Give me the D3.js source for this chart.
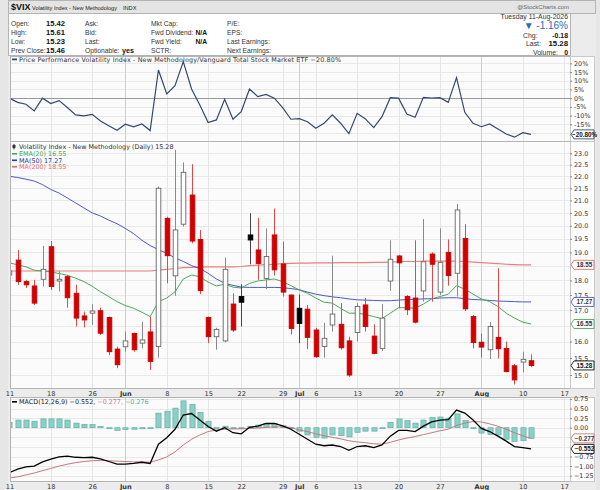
<!DOCTYPE html>
<html lang="en">
<head>
<meta charset="utf-8">
<title>$VIX Volatility Index - New Methodology</title>
<script src="https://d3js.org/d3.v7.min.js"></script>
<style>
    body, html { margin: 0; padding: 0; background: #e6e6e6; overflow: hidden; }
    svg { display: block; font-family: "DejaVu Sans", Verdana, sans-serif; }
    .hd { font-family: "Liberation Sans", Arial, sans-serif; }
</style>
</head>
<body>
<svg width="600" height="490"></svg>
<script>
// ---- data ----
const days = ["05-11","05-12","05-13","05-14","05-15","05-18","05-19","05-20","05-21","05-22",
              "05-26","05-27","05-28","05-29","06-01","06-02","06-03","06-04","06-05","06-08",
              "06-09","06-10","06-11","06-12","06-15","06-16","06-17","06-18","06-22","06-23",
              "06-24","06-25","06-26","06-29","06-30","07-01","07-02","07-06","07-07","07-08",
              "07-09","07-10","07-13","07-14","07-15","07-16","07-17","07-20","07-21","07-22",
              "07-23","07-24","07-27","07-28","07-29","07-30","07-31","08-03","08-04","08-05",
              "08-06","08-07","08-10","08-11"];
const futureDays = ["08-12","08-13","08-14","08-17"];

const open = [18.19,18.72,17.96,17.81,18.04,19.21,17.98,18.13,17.56,16.81,
              16.90,16.98,16.76,15.77,15.84,16.25,15.95,16.30,15.85,20.29,
              18.16,20.06,21.22,19.48,16.76,16.15,16.02,17.20,17.45,19.65,
              19.09,18.07,19.65,18.58,17.50,17.06,17.03,16.36,15.85,16.52,
              16.54,16.02,16.28,17.17,16.17,15.79,17.98,18.87,17.45,17.40,
              17.64,18.94,17.60,19.00,18.25,19.52,16.79,15.98,15.75,16.13,
              15.79,15.27,15.38,15.42];
const high = [18.40,19.09,18.02,18.02,19.24,19.42,18.32,18.19,17.85,16.95,
              17.20,17.08,16.79,15.84,16.31,16.28,16.62,16.79,21.57,20.35,
              23.15,22.60,22.52,19.84,16.79,16.43,18.81,17.56,17.87,20.49,
              20.31,19.90,20.68,19.40,17.52,17.52,17.17,16.43,16.59,18.88,
              17.23,16.15,17.23,17.40,16.54,17.20,19.45,18.91,17.50,19.45,
              20.26,19.00,19.90,19.48,20.86,20.06,16.84,16.25,16.61,18.43,
              16.00,15.32,15.69,15.61];
const low = [18.12,17.85,17.74,17.17,17.79,17.67,17.62,17.08,16.47,16.44,
             16.52,16.21,15.59,15.20,15.69,15.69,15.79,15.15,15.51,17.90,
             17.48,19.97,19.34,17.53,15.95,15.75,15.98,16.30,16.47,18.57,
             18.02,17.70,18.17,17.45,16.22,15.95,15.77,15.51,15.51,16.31,
             15.75,14.95,16.00,16.31,15.61,15.71,17.64,17.06,16.84,16.57,
             17.28,17.28,17.50,17.82,17.45,16.97,15.79,15.51,15.47,15.49,
             15.08,14.73,15.08,15.23];
const close = [18.33,17.96,17.85,17.23,18.39,17.79,18.04,17.41,16.74,16.68,
               16.97,16.26,15.69,15.30,16.02,15.75,16.05,15.40,21.50,18.88,
               19.84,22.17,19.42,17.65,16.15,16.38,18.39,16.36,17.26,19.46,
               18.60,18.85,18.37,17.60,16.41,16.57,16.13,15.54,16.10,16.87,
               15.81,15.00,17.12,16.47,15.64,16.74,18.75,18.62,17.01,16.61,
               18.66,18.57,18.64,18.17,20.62,17.04,15.97,15.83,16.47,15.78,
               15.10,14.86,15.46,15.28];

const ema20 = [18.62,18.55,18.48,18.36,18.33,18.30,18.24,18.18,18.08,17.96,
               17.80,17.61,17.45,17.28,17.15,17.06,16.93,16.79,17.28,17.40,
               17.61,18.05,18.19,18.13,17.94,17.81,17.87,17.77,17.74,17.90,
               17.98,18.02,18.05,17.96,17.82,17.67,17.56,17.40,17.26,17.23,
               17.06,16.90,16.90,16.86,16.79,16.72,16.90,17.08,17.08,17.06,
               17.20,17.37,17.45,17.53,17.82,17.70,17.53,17.37,17.28,17.12,
               16.90,16.74,16.61,16.55];
const ma50 = [22.00,21.95,21.88,21.80,21.65,21.45,21.30,21.10,20.90,20.70,
              20.50,20.38,20.22,20.08,19.90,19.70,19.45,19.25,19.10,18.97,
              18.80,18.67,18.52,18.42,18.25,18.05,17.90,17.83,17.77,17.76,
              17.76,17.76,17.76,17.75,17.72,17.68,17.60,17.53,17.48,17.44,
              17.41,17.37,17.34,17.33,17.32,17.31,17.31,17.33,17.35,17.36,
              17.37,17.38,17.40,17.41,17.41,17.38,17.35,17.34,17.32,17.30,
              17.29,17.28,17.27,17.27];
const ma200 = [18.33,18.33,18.33,18.33,18.33,18.33,18.33,18.33,18.33,18.33,
               18.33,18.33,18.33,18.33,18.33,18.33,18.33,18.33,18.36,18.39,
               18.42,18.45,18.46,18.47,18.48,18.48,18.48,18.48,18.49,18.52,
               18.54,18.56,18.57,18.59,18.60,18.61,18.61,18.62,18.62,18.62,
               18.63,18.63,18.63,18.63,18.64,18.64,18.65,18.66,18.67,18.67,
               18.68,18.68,18.68,18.68,18.68,18.67,18.65,18.63,18.61,18.59,
               18.57,18.56,18.55,18.55];

// price performance vs VTI, %
const perf = [0,-2.4,-3.5,-7.3,0,-3.1,-1.4,-5.4,-9.6,-10.2,
              -9.3,-13.1,-15.8,-18.4,-15.0,-16.5,-14.8,-18.6,16.2,2.4,
              7.2,21.0,5.3,-3.9,-14.0,-12.5,-0.6,-12.1,-7.7,5.3,
              0.9,2.2,0,-5.4,-12.1,-11.8,-13.5,-17.3,-14.4,-9.6,
              -14.4,-20.4,-8.7,-11.9,-16.9,-10.6,0.3,0,-9.1,-11.0,
              0.5,0.1,0.3,-2.4,11.8,-8.1,-14.4,-16.4,-14.8,-17.7,
              -20.6,-22.4,-19.8,-20.8];

const macd = [-1.17,-1.08,-1.02,-1.00,-0.89,-0.82,-0.76,-0.74,-0.77,-0.78,
              -0.77,-0.81,-0.88,-0.95,-0.95,-0.93,-0.90,-0.93,-0.43,-0.26,
              -0.04,0.33,0.37,0.20,0.03,-0.09,0.00,-0.13,-0.16,0.01,
              0.04,0.11,0.11,0.05,-0.04,-0.17,-0.30,-0.43,-0.47,-0.45,
              -0.49,-0.59,-0.49,-0.47,-0.52,-0.45,-0.22,-0.07,-0.07,-0.10,
              0.04,0.15,0.20,0.21,0.46,0.38,0.20,-0.02,-0.10,-0.22,
              -0.35,-0.49,-0.52,-0.552];
const signal = [-1.31,-1.28,-1.23,-1.18,-1.12,-1.06,-1.00,-0.95,-0.91,-0.88,
                -0.86,-0.85,-0.86,-0.87,-0.88,-0.89,-0.89,-0.90,-0.84,-0.76,
                -0.63,-0.45,-0.30,-0.19,-0.10,-0.06,-0.04,-0.03,-0.03,-0.02,
                -0.01,0.01,0.02,0.02,0.01,-0.06,-0.10,-0.16,-0.21,-0.25,
                -0.29,-0.34,-0.37,-0.39,-0.42,-0.43,-0.38,-0.32,-0.27,-0.23,
                -0.18,-0.13,-0.08,-0.04,0.06,0.12,0.16,0.15,0.10,0.04,
                -0.04,-0.13,-0.21,-0.277];
const hist = [0.14,0.20,0.20,0.17,0.23,0.23,0.23,0.20,0.12,0.09,
              0.08,0.03,-0.02,-0.07,-0.05,-0.04,-0.03,-0.02,0.38,0.43,
              0.51,0.70,0.61,0.40,0.17,0.01,0.04,-0.02,-0.02,0.03,
              0.07,0.11,0.11,0.05,-0.02,-0.09,-0.19,-0.25,-0.27,-0.19,
              -0.21,-0.24,-0.12,-0.09,-0.09,-0.02,0.14,0.23,0.19,0.12,
              0.20,0.27,0.28,0.25,0.36,0.19,0.00,-0.14,-0.18,-0.19,
              -0.30,-0.36,-0.34,-0.276];

const tickDays = ["05-11","05-18","05-26","06-01","06-08","06-15","06-22","06-29",
                  "07-01","07-06","07-13","07-20","07-27","08-03","08-10","08-17"];
const tickLabels = ["11","18","26","Jun","8","15","22","29","Jul","6","13","20","27","Aug","10","17"];
const monthLabels = ["Jun","Jul","Aug"];

const priceTicks = [15,15.5,16,16.5,17,17.5,18,18.5,19,19.5,20,20.5,21,21.5,22,22.5,23];
const perfTicks = [-20,-15,-10,-5,0,5,10,15,20];
const macdTicks = [-1.25,-1,-0.75,-0.5,-0.25,0,0.25,0.5,0.75];

const infoRows = [
  ["Open:", "15.42", "Ask:", "", "Mkt Cap:", "", "P/E:"],
  ["High:", "15.61", "Bid:", "", "Fwd Dividend:", "N/A", "EPS:"],
  ["Low:", "15.23", "Last:", "", "Fwd Yield:", "N/A", "Last Earnings:"],
  ["Prev Close:", "15.46", "Optionable:", "yes", "SCTR:", "", "Next Earnings:"]
];

// ---- layout ----
const svg = d3.select("svg");
const L = 10, R = 570;
const P1 = {top: 56, bottom: 141, id: "c1"};
const P2 = {top: 141, bottom: 388, id: "c2"};
const P3 = {top: 397, bottom: 481, id: "c3"};

const slots = days.concat(futureDays);
const x = d3.scaleLinear().domain([0, slots.length - 1]).range([9.4, 9.4 + 8.28 * (slots.length - 1)]);
const xd = d => x(slots.indexOf(d));

const yPerf = d3.scaleLinear().domain([-24.6, 24.8]).range([P1.bottom, P1.top - 1]);
const yPrice = d3.scaleLog().domain([14.63, 23.55]).range([P2.bottom, P2.top]);
const yMacd = d3.scaleLinear().domain([-1.388, 0.8]).range([P3.bottom, P3.top]);

const grey = "#b4b4b4";
const f2 = d3.format(".2f"), f3 = d3.format(".3f");

// outer frame
svg.append("rect").attr("x", 8).attr("y", 0).attr("width", 588).attr("height", 490).attr("fill", "#ececec");

// ---- header ----
const hdr = svg.append("g").attr("class", "hd");
hdr.append("rect").attr("x", 8.5).attr("y", 0.5).attr("width", 587).attr("height", 13)
   .attr("fill", "#e4e4e4").attr("stroke", grey);
hdr.append("text").attr("x", 11).attr("y", 10).attr("font-size", 9).attr("font-weight", "bold").attr("fill", "#111").text("$VIX");
hdr.append("text").attr("x", 32).attr("y", 10).attr("font-size", 6).attr("fill", "#222")
   .attr("textLength", 85).attr("lengthAdjust", "spacingAndGlyphs").text("Volatility Index - New Methodology");
hdr.append("text").attr("x", 123).attr("y", 10).attr("font-size", 5.6).attr("fill", "#222").text("INDX");
hdr.append("text").attr("x", 569).attr("y", 9).attr("text-anchor", "end").attr("font-size", 6).attr("fill", "#666").text("@StockCharts.com");

hdr.append("rect").attr("x", 8.5).attr("y", 13.5).attr("width", 562).attr("height", 42)
   .attr("fill", "#fff").attr("stroke", grey);

const rowY = [26, 35, 44, 53];
infoRows.forEach((r, i) => {
  const t = hdr.append("g").attr("font-size", 6.7).attr("fill", "#333");
  t.append("text").attr("x", 11).attr("y", rowY[i]).text(r[0]);
  t.append("text").attr("x", 65).attr("y", rowY[i]).attr("text-anchor", "end")
   .attr("font-weight", "bold").attr("font-size", 7.6).attr("fill", "#111").text(r[1]);
  t.append("text").attr("x", 85).attr("y", rowY[i]).text(r[2]);
  if (r[3]) t.append("text").attr("x", 122).attr("y", rowY[i]).attr("font-weight", "bold").attr("font-size", 7.2).attr("fill", "#111").text(r[3]);
  t.append("text").attr("x", 151).attr("y", rowY[i]).text(r[4]);
  if (r[5]) t.append("text").attr("x", 207).attr("y", rowY[i]).attr("text-anchor", "end").attr("font-weight", "bold").attr("fill", "#111").text(r[5]);
  t.append("text").attr("x", 227).attr("y", rowY[i]).text(r[6]);
});

const rt = hdr.append("g").attr("font-size", 6.9).attr("fill", "#333");
rt.append("text").attr("x", 568).attr("y", 19).attr("text-anchor", "end").text("Tuesday  11-Aug-2026");
rt.append("text").attr("x", 568).attr("y", 29).attr("text-anchor", "end").attr("font-size", 10).attr("fill", "#2f6db5").text("\u25BC -1.16%");
rt.append("text").attr("x", 523).attr("y", 37.5).text("Chg:");
rt.append("text").attr("x", 568).attr("y", 37.5).attr("text-anchor", "end").attr("font-weight", "bold").attr("fill", "#111").text("-0.18");
rt.append("text").attr("x", 526).attr("y", 46).text("Last:");
rt.append("text").attr("x", 568).attr("y", 46).attr("text-anchor", "end").attr("font-weight", "bold").attr("font-size", 7.8).attr("fill", "#111").text(f2(close[close.length - 1]));
rt.append("text").attr("x", 533).attr("y", 54.5).text("Volume:");
rt.append("text").attr("x", 568).attr("y", 54.5).attr("text-anchor", "end").attr("font-weight", "bold").attr("fill", "#111").text("0");

// ---- panels ----
const defs = svg.append("defs");
[P1, P2, P3].forEach(p => {
  defs.append("clipPath").attr("id", p.id).append("rect")
      .attr("x", L).attr("y", p.top).attr("width", R - L).attr("height", p.bottom - p.top);
});

function panelBase(p, yScale, ticks) {
  const g = svg.append("g");
  g.append("rect").attr("x", L).attr("y", p.top).attr("width", R - L).attr("height", p.bottom - p.top).attr("fill", "#fbfbfb");
  g.append("rect").attr("x", R).attr("y", p.top).attr("width", 24).attr("height", p.bottom - p.top).attr("fill", "#fdfdfd");
  const gr = g.append("g").attr("clip-path", "url(#" + p.id + ")");
  gr.selectAll("line.h").data(ticks).join("line")
    .attr("x1", L).attr("x2", R).attr("y1", d => Math.round(yScale(d)) + 0.5).attr("y2", d => Math.round(yScale(d)) + 0.5)
    .attr("stroke", "#e9e9e9");
  gr.selectAll("line.v").data(tickDays).join("line")
    .attr("x1", d => Math.round(xd(d)) + 0.5).attr("x2", d => Math.round(xd(d)) + 0.5)
    .attr("y1", p.top).attr("y2", p.bottom)
    .attr("stroke", (d, i) => monthLabels.includes(tickLabels[i]) ? "#cfcfcf" : "#e6e6e6");
  return g;
}

function frame(p) {
  svg.append("rect").attr("x", L + 0.5).attr("y", p.top + 0.5).attr("width", R - L).attr("height", p.bottom - p.top)
     .attr("fill", "none").attr("stroke", grey);
  svg.append("rect").attr("x", R + 0.5).attr("y", p.top + 0.5).attr("width", 24).attr("height", p.bottom - p.top)
     .attr("fill", "none").attr("stroke", "#c8c8c8");
}

function rightAxis(yScale, ticks, fmt, boxes) {
  const shown = ticks.filter(t => boxes.every(b => Math.abs(yScale(t) - yScale(b)) > 6.5));
  const ax = svg.append("g").attr("transform", `translate(${R},0)`)
    .call(d3.axisRight(yScale).tickValues(shown).tickFormat(fmt).tickSize(2).tickPadding(2));
  ax.select(".domain").remove();
  ax.selectAll("line").attr("stroke", "#888");
  ax.selectAll("text").attr("font-size", 6.4).attr("fill", "#333").attr("font-family", "DejaVu Sans, Verdana, sans-serif");
}

function valueBox(yScale, v, label, stroke, color) {
  const y = yScale(v);
  svg.append("path")
     .attr("d", `M${R + 1},${y} L${R + 4},${y - 4.5} L${R + 24},${y - 4.5} L${R + 24},${y + 4.5} L${R + 4},${y + 4.5} Z`)
     .attr("fill", "#fff").attr("stroke", stroke).attr("stroke-width", 0.9);
  svg.append("text").attr("x", R + 14.5).attr("y", y + 2.3).attr("text-anchor", "middle")
     .attr("font-family", "Liberation Sans, Arial, sans-serif")
     .attr("font-size", 6.3).attr("font-weight", "bold").attr("fill", color).text(label);
}

// ---- panel 1: price performance ----
const g1 = panelBase(P1, yPerf, perfTicks);
g1.append("line").attr("x1", L).attr("x2", R).attr("y1", Math.round(yPerf(0)) + 0.5).attr("y2", Math.round(yPerf(0)) + 0.5)
  .attr("stroke", "#9a9a9a");
g1.append("g").attr("clip-path", "url(#c1)").append("path").datum(perf)
  .attr("d", d3.line().x((d, i) => x(i)).y(d => yPerf(d)))
  .attr("fill", "none").attr("stroke", "#34496e").attr("stroke-width", 1.2);
frame(P1);
g1.append("rect").attr("x", 12).attr("y", 58.5).attr("width", 5).attr("height", 1.8).attr("fill", "#34496e");
g1.append("text").attr("x", 19).attr("y", 61.5).attr("font-size", 6.4).attr("fill", "#333")
  .attr("textLength", 322).attr("lengthAdjust", "spacing")
  .text("Price Performance Volatility Index - New Methodology/Vanguard Total Stock Market ETF " + f2(perf[perf.length - 1]) + "%");
rightAxis(yPerf, perfTicks, d => d + "%", [perf[perf.length - 1]]);
valueBox(yPerf, perf[perf.length - 1], f2(perf[perf.length - 1]) + "%", "#34496e", "#111");

// ---- panel 2: candles ----
const g2 = panelBase(P2, yPrice, priceTicks);
const gp = g2.append("g").attr("clip-path", "url(#c2)");
const idx = d3.range(days.length);
const lineP = arr => d3.line().x((d, i) => x(i)).y(d => yPrice(d))(arr);

gp.append("path").attr("d", lineP(ma200)).attr("fill", "none").attr("stroke", "#ec7f7f").attr("stroke-width", 1.2);
gp.append("path").attr("d", lineP(ma50)).attr("fill", "none").attr("stroke", "#4a5cc0").attr("stroke-width", 1);
gp.append("path").attr("d", lineP(ema20)).attr("fill", "none").attr("stroke", "#4aa85a").attr("stroke-width", 1);

const isRed = i => i > 0 && close[i] < close[i - 1];
const isUp = i => close[i] >= open[i];
const cw = 4.6;

gp.selectAll("line.wick").data(idx).join("line")
  .attr("x1", i => Math.round(x(i)) + 0.5).attr("x2", i => Math.round(x(i)) + 0.5)
  .attr("y1", i => yPrice(high[i])).attr("y2", i => yPrice(low[i]))
  .attr("stroke", i => isRed(i) ? "#e24a4a" : (isUp(i) ? "#8a8a8a" : "#444"))
  .attr("stroke-width", 1);

gp.selectAll("rect.body").data(idx).join("rect")
  .attr("x", i => Math.round(x(i)) + 0.5 - cw / 2)
  .attr("y", i => yPrice(Math.max(open[i], close[i])))
  .attr("width", cw)
  .attr("height", i => Math.max(1.2, yPrice(Math.min(open[i], close[i])) - yPrice(Math.max(open[i], close[i]))))
  .attr("fill", i => isUp(i) ? "#fff" : (isRed(i) ? "#d40000" : "#000"))
  .attr("stroke", i => isUp(i) ? (isRed(i) ? "#d40000" : "#666") : (isRed(i) ? "#c80000" : "#000"))
  .attr("stroke-width", 0.9);

frame(P2);

// legend
const lg = svg.append("g").attr("font-size", 6.4);
lg.append("line").attr("x1", 14).attr("x2", 14).attr("y1", 144).attr("y2", 149.5).attr("stroke", "#333");
lg.append("rect").attr("x", 12.5).attr("y", 145).attr("width", 3).attr("height", 3).attr("fill", "#333");
lg.append("text").attr("x", 19).attr("y", 149).attr("fill", "#333")
  .text("Volatility Index - New Methodology (Daily) " + f2(close[close.length - 1]));
const legendItems = [
  ["EMA(20) " + f2(ema20[ema20.length - 1]), "#4aa85a", 156],
  ["MA(50) " + f2(ma50[ma50.length - 1]), "#2c3a9a", 162.5],
  ["MA(200) " + f2(ma200[ma200.length - 1]), "#e86a6a", 169]
];
legendItems.forEach(([t, c, y]) => {
  lg.append("rect").attr("x", 12).attr("y", y - 3).attr("width", 5).attr("height", 1.6).attr("fill", c);
  lg.append("text").attr("x", 19).attr("y", y).attr("fill", c).text(t);
});

const last = days.length - 1;
rightAxis(yPrice, priceTicks, d3.format(".1f"), [ma200[last], ma50[last], ema20[last], close[last]]);
valueBox(yPrice, ma200[last], f2(ma200[last]), "#e86a6a", "#333");
valueBox(yPrice, ma50[last], f2(ma50[last]), "#4a5cc0", "#333");
valueBox(yPrice, ema20[last], f2(ema20[last]), "#4aa85a", "#333");
valueBox(yPrice, close[last], f2(close[last]), "#111", "#111");

// ---- x axes ----
function xAxis(yPos) {
  const ax = svg.append("g").attr("transform", `translate(0,${yPos})`)
    .call(d3.axisBottom(x).tickValues(tickDays.map(d => slots.indexOf(d)))
      .tickFormat((d, i) => tickLabels[i]).tickSize(0).tickPadding(3));
  ax.select(".domain").remove();
  ax.selectAll("text").attr("font-size", 6.6).attr("fill", "#333")
    .attr("font-family", "DejaVu Sans, Verdana, sans-serif")
    .attr("font-weight", (d, i) => monthLabels.includes(tickLabels[i]) ? "bold" : "normal");
}
xAxis(P2.bottom);
xAxis(P3.bottom);

// ---- panel 3: MACD ----
const g3 = panelBase(P3, yMacd, macdTicks);
const gm = g3.append("g").attr("clip-path", "url(#c3)");
gm.selectAll("rect.hist").data(idx).join("rect")
  .attr("x", i => Math.round(x(i)) + 0.5 - 2.6)
  .attr("y", i => Math.min(yMacd(hist[i]), yMacd(0)))
  .attr("width", 5.2)
  .attr("height", i => Math.max(1, Math.abs(yMacd(hist[i]) - yMacd(0))))
  .attr("fill", "#8ccfc6").attr("stroke", "#55aaa0").attr("stroke-width", 0.6);
const lineM = arr => d3.line().x((d, i) => x(i)).y(d => yMacd(d))(arr);
gm.append("path").attr("d", lineM(signal)).attr("fill", "none").attr("stroke", "#c27a80").attr("stroke-width", 1);
gm.append("path").attr("d", lineM(macd)).attr("fill", "none").attr("stroke", "#000").attr("stroke-width", 1.3);
frame(P3);

const ml = svg.append("g").attr("font-size", 6.4);
ml.append("rect").attr("x", 12).attr("y", 401).attr("width", 5).attr("height", 1.6).attr("fill", "#000");
const mt = ml.append("text").attr("x", 19).attr("y", 404);
mt.append("tspan").attr("fill", "#222").text("MACD(12,26,9) " + f3(macd[last]) + ", ");
mt.append("tspan").attr("fill", "#c27a80").text(f3(signal[last]) + ", ");
mt.append("tspan").attr("fill", "#55aaa0").text(f3(hist[last]));

rightAxis(yMacd, macdTicks, f2, [signal[last], macd[last]]);
valueBox(yMacd, signal[last], f3(signal[last]), "#c27a80", "#333");
valueBox(yMacd, macd[last], f3(macd[last]), "#111", "#111");
</script>
</body>
</html>
